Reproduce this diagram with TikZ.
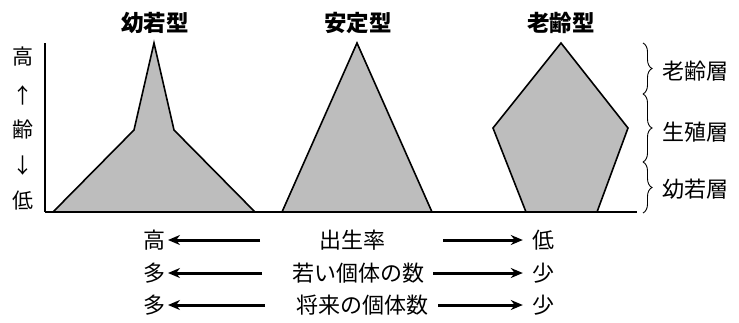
\documentclass[tikz,border=0pt]{standalone}
\usepackage{fontspec}
\setmainfont{Noto Sans CJK JP}
\usetikzlibrary{arrows.meta,decorations.pathreplacing}
\begin{document}
\begin{tikzpicture}[x=1pt,y=-1pt,
  title/.style={font=\fontsize{22.5}{22.5}\selectfont\bfseries,inner sep=0pt},
  lbl/.style={font=\fontsize{22}{22}\selectfont,inner sep=0pt},
  axl/.style={font=\fontsize{21}{21}\selectfont,inner sep=0pt},
  pyrline/.style={draw=black,line width=1.6pt,line join=miter},
  pyrfill/.style={fill=black!26},
  arr/.style={line width=3pt,-{Stealth[length=12pt,width=10pt]}},
  brc/.style={line width=0.9pt,decorate,decoration={brace,amplitude=9pt}}]
\useasboundingbox (0,0) rectangle (739,322);
% titles
\node[title] (t1) at (155,23) {幼若型};
\node[title] (t2) at (358,23) {安定型};
\node[title] (t3) at (561,23) {老齢型};
% left axis labels
\node[axl] (hi) at (23,57) {高};
\node[axl] (up) at (23,95) {↑};
\node[axl] (age) at (23,130) {齢};
\node[axl] (dn) at (23,166) {↓};
\node[axl] (lo) at (23,201) {低};
% shapes
\coordinate (a1) at (53,212); \coordinate (a2) at (134,130); \coordinate (a3) at (154,43);
\coordinate (a4) at (174,130); \coordinate (a5) at (255,212);
\fill[pyrfill] (a1) -- (a2) -- (a3) -- (a4) -- (a5) -- cycle;
\draw[pyrline] (a1) -- (a2) -- (a3) -- (a4) -- (a5);
\coordinate (b1) at (282,212); \coordinate (b2) at (357,43); \coordinate (b3) at (432,212);
\fill[pyrfill] (b1) -- (b2) -- (b3) -- cycle;
\draw[pyrline] (b1) -- (b2) -- (b3);
\coordinate (c1) at (526,212); \coordinate (c2) at (493,128); \coordinate (c3) at (561,43);
\coordinate (c4) at (628,128); \coordinate (c5) at (597,212);
\fill[pyrfill] (c1) -- (c2) -- (c3) -- (c4) -- (c5) -- cycle;
\draw[pyrline] (c1) -- (c2) -- (c3) -- (c4) -- (c5);
% axes
\coordinate (top) at (45,43); \coordinate (org) at (45,212); \coordinate (end) at (637,212);
\draw[line width=1.4pt] (top) -- (org);
\draw[line width=1.9pt] (org) -- (end);
% braces
\coordinate (k0) at (643,43); \coordinate (k1) at (643,94);
\coordinate (k2) at (643,162); \coordinate (k3) at (643,213);
\draw[brc] (k0) -- (k1);
\draw[brc] (k1) -- (k2);
\draw[brc] (k2) -- (k3);
\node[lbl,anchor=west] (r1) at (662,71) {老齢層};
\node[lbl,anchor=west] (r2) at (662,132) {生殖層};
\node[lbl,anchor=west] (r3) at (662,189) {幼若層};
% bottom rows
\node[lbl] (m1) at (352,240) {出生率};
\node[lbl] (m2) at (358,273) {若い個体の数};
\node[lbl] (m3) at (362,305) {将来の個体数};
\node[lbl] (L1) at (154,240) {高};
\node[lbl] (L2) at (154,273) {多};
\node[lbl] (L3) at (154,305) {多};
\node[lbl] (R1) at (543,240) {低};
\node[lbl] (R2) at (543,273) {少};
\node[lbl] (R3) at (543,305) {少};
\coordinate (p1) at (260,240); \coordinate (q1) at (443,240);
\coordinate (p2) at (262,273); \coordinate (q2) at (433,273);
\coordinate (p3) at (265,305); \coordinate (q3) at (438,305);
\draw[arr,shorten >=14pt] (p1) -- (L1.center);
\draw[arr,shorten >=14pt] (p2) -- (L2.center);
\draw[arr,shorten >=14pt] (p3) -- (L3.center);
\draw[arr,shorten >=9pt] (q1) -- (R1.west);
\draw[arr,shorten >=9pt] (q2) -- (R2.west);
\draw[arr,shorten >=9pt] (q3) -- (R3.west);
\end{tikzpicture}
\end{document}
